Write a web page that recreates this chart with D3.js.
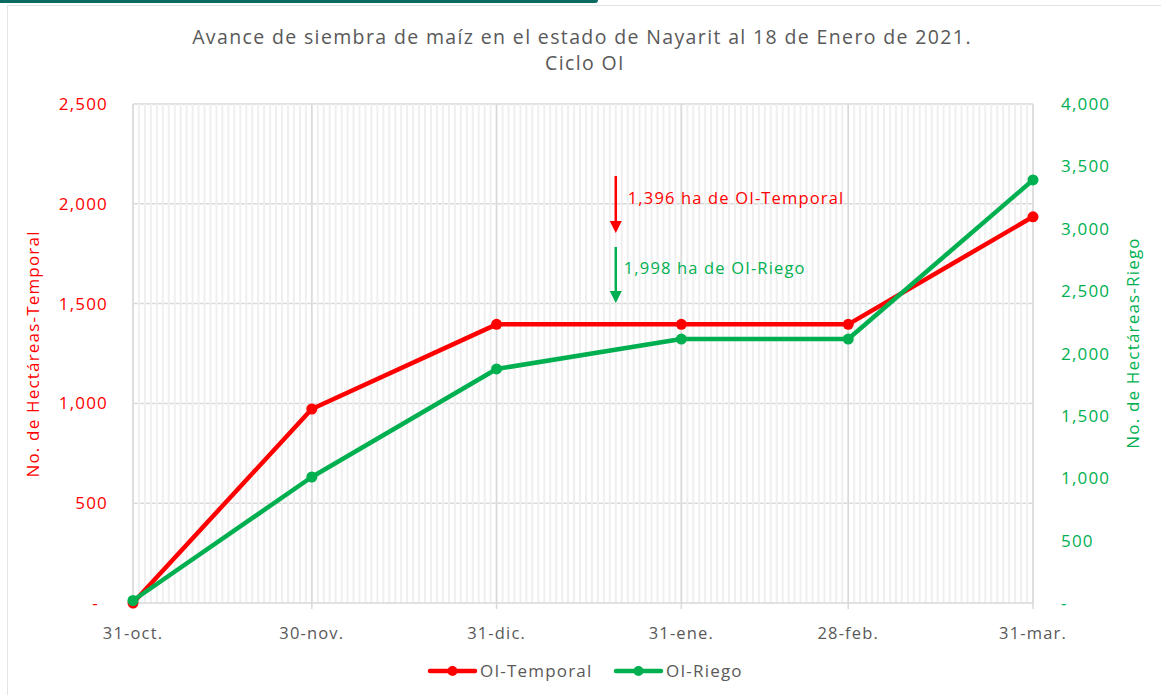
<!DOCTYPE html>
<html lang="es">
<head>
<meta charset="UTF-8">
<title>Avance de siembra de maíz - Nayarit</title>
<script src="https://cdnjs.cloudflare.com/ajax/libs/d3/7.8.5/d3.min.js"></script>
<style>
  body { margin: 0; background: #fff; }
  text { font-family: "Open Sans", "Noto Sans", sans-serif; letter-spacing: 0.07em; }
</style>
</head>
<body>
<div id="chart"></div>
<script>
// data
var fechas = ["2020-10-31", "2020-11-30", "2020-12-31", "2021-01-31", "2021-02-28", "2021-03-31"];
var etiquetas = ["31-oct.", "30-nov.", "31-dic.", "31-ene.", "28-feb.", "31-mar."];
var temporal = [0, 972, 1396, 1396, 1396, 1935];
var riego = [20, 1010, 1876, 2116, 2116, 3391];
var ticksIzq = [0, 500, 1000, 1500, 2000, 2500];
var ticksDer = [0, 500, 1000, 1500, 2000, 2500, 3000, 3500, 4000];
var fechaCorte = "2021-01-20";

var rojo = "#ff0000", verde = "#00b050", gris = "#595959";
var width = 1161, height = 695;
var m = { left: 133, right: 1033, top: 104, bottom: 603 };

var parse = d3.utcParse("%Y-%m-%d");
var dias = fechas.map(parse);

var svg = d3.select("#chart").append("svg")
  .attr("width", width)
  .attr("height", height);

// frame
svg.append("rect")
  .attr("x", 7.5).attr("y", 5.5)
  .attr("width", width).attr("height", height)
  .attr("fill", "none").attr("stroke", "#e3e3e3");
svg.append("path")
  .attr("d", "M0,0 H598 a3,3 0 0 1 -3,3 H0 Z")
  .attr("fill", "#0b6b62");

var x = d3.scaleUtc()
  .domain([dias[0], dias[dias.length - 1]])
  .range([m.left, m.right]);
var yL = d3.scaleLinear().domain([0, 2500]).range([m.bottom, m.top]);
var yR = d3.scaleLinear().domain([0, 4000]).range([m.bottom, m.top]);

// horizontal grid
svg.append("g").selectAll("line")
  .data(ticksIzq.slice(1))
  .join("line")
  .attr("x1", m.left).attr("x2", m.right)
  .attr("y1", d => yL(d)).attr("y2", d => yL(d))
  .attr("stroke", "#d9d9d9").attr("stroke-width", 1.5);

// daily minor grid
svg.append("g").selectAll("line")
  .data(d3.utcDay.range(dias[0], d3.utcDay.offset(dias[dias.length - 1], 1)))
  .join("line")
  .attr("x1", d => x(d)).attr("x2", d => x(d))
  .attr("y1", m.top).attr("y2", m.bottom)
  .attr("stroke", "#efefef").attr("stroke-width", 2);

// major grid at each date
svg.append("g").selectAll("line")
  .data(dias)
  .join("line")
  .attr("x1", d => x(d)).attr("x2", d => x(d))
  .attr("y1", m.top).attr("y2", m.bottom + 6)
  .attr("stroke", "#d9d9d9").attr("stroke-width", 1.5);

// x axis line
svg.append("line")
  .attr("x1", m.left).attr("x2", m.right)
  .attr("y1", m.bottom).attr("y2", m.bottom)
  .attr("stroke", "#d9d9d9").attr("stroke-width", 1.5);

// x labels
svg.append("g").selectAll("text")
  .data(dias)
  .join("text")
  .attr("x", d => x(d)).attr("y", 639)
  .attr("text-anchor", "middle")
  .attr("fill", gris).attr("font-size", 16.5)
  .text((d, i) => etiquetas[i]);

var fmt = d3.format(",");

// left y ticks
svg.append("g").selectAll("text")
  .data(ticksIzq)
  .join("text")
  .attr("x", d => d === 0 ? 99 : 108)
  .attr("y", d => yL(d) + 6)
  .attr("text-anchor", "end")
  .attr("fill", rojo).attr("font-size", 17)
  .text(d => d === 0 ? "-" : fmt(d));

// right y ticks
svg.append("g").selectAll("text")
  .data(ticksDer)
  .join("text")
  .attr("x", 1061)
  .attr("y", d => yR(d) + 6)
  .attr("text-anchor", "start")
  .attr("fill", verde).attr("font-size", 17)
  .text(d => d === 0 ? "-" : fmt(d));

// axis titles
svg.append("text")
  .attr("transform", "translate(39,354) rotate(-90)")
  .attr("text-anchor", "middle")
  .attr("fill", rojo).attr("font-size", 17)
  .text("No. de Hectáreas-Temporal");
svg.append("text")
  .attr("transform", "translate(1139,343) rotate(-90)")
  .attr("text-anchor", "middle")
  .attr("fill", verde).attr("font-size", 17)
  .text("No. de Hectáreas-Riego");

// title
svg.append("text")
  .attr("x", 582).attr("y", 44)
  .attr("text-anchor", "middle")
  .attr("fill", gris).attr("font-size", 19.5)
  .text("Avance de siembra de maíz en el estado de Nayarit al 18 de Enero de 2021.");
svg.append("text")
  .attr("x", 585).attr("y", 70)
  .attr("text-anchor", "middle")
  .attr("fill", gris).attr("font-size", 19.5)
  .text("Ciclo OI");

// series
function serie(vals, y, color) {
  var pts = vals.map((v, i) => ({ d: dias[i], v: v }));
  var line = d3.line().x(p => x(p.d)).y(p => y(p.v));
  svg.append("path")
    .datum(pts)
    .attr("d", line)
    .attr("fill", "none")
    .attr("stroke", color)
    .attr("stroke-width", 4.5)
    .attr("stroke-linejoin", "round");
  svg.append("g").selectAll("circle")
    .data(pts)
    .join("circle")
    .attr("cx", p => x(p.d)).attr("cy", p => y(p.v))
    .attr("r", 5.5)
    .attr("fill", color);
}
serie(temporal, yL, rojo);
serie(riego, yR, verde);

// annotations
var xc = x(parse(fechaCorte));
function flecha(y1, y2, color) {
  svg.append("line")
    .attr("x1", xc).attr("x2", xc)
    .attr("y1", y1).attr("y2", y2 - 10)
    .attr("stroke", color).attr("stroke-width", 2.5);
  svg.append("path")
    .attr("d", "M" + (xc - 6) + "," + (y2 - 12) + " L" + (xc + 6) + "," + (y2 - 12) + " L" + xc + "," + y2 + " Z")
    .attr("fill", color);
}
flecha(176, 233, rojo);
flecha(247, 303, verde);
svg.append("text")
  .attr("x", xc + 12).attr("y", 204)
  .attr("fill", rojo).attr("font-size", 16.5)
  .text("1,396 ha de OI-Temporal");
svg.append("text")
  .attr("x", xc + 8).attr("y", 274)
  .attr("fill", verde).attr("font-size", 16.5)
  .text("1,998 ha de OI-Riego");

// legend
var leyenda = [
  { nombre: "OI-Temporal", color: rojo, x: 430 },
  { nombre: "OI-Riego", color: verde, x: 616 }
];
var lg = svg.append("g").selectAll("g")
  .data(leyenda)
  .join("g")
  .attr("transform", d => "translate(" + d.x + ",671)");
lg.append("line")
  .attr("x1", 0).attr("x2", 45)
  .attr("stroke", d => d.color).attr("stroke-width", 4.5)
  .attr("stroke-linecap", "round");
lg.append("circle")
  .attr("cx", 22.5).attr("r", 5)
  .attr("fill", d => d.color);
lg.append("text")
  .attr("x", 50).attr("y", 6)
  .attr("fill", gris).attr("font-size", 17)
  .text(d => d.nombre);
</script>
</body>
</html>
